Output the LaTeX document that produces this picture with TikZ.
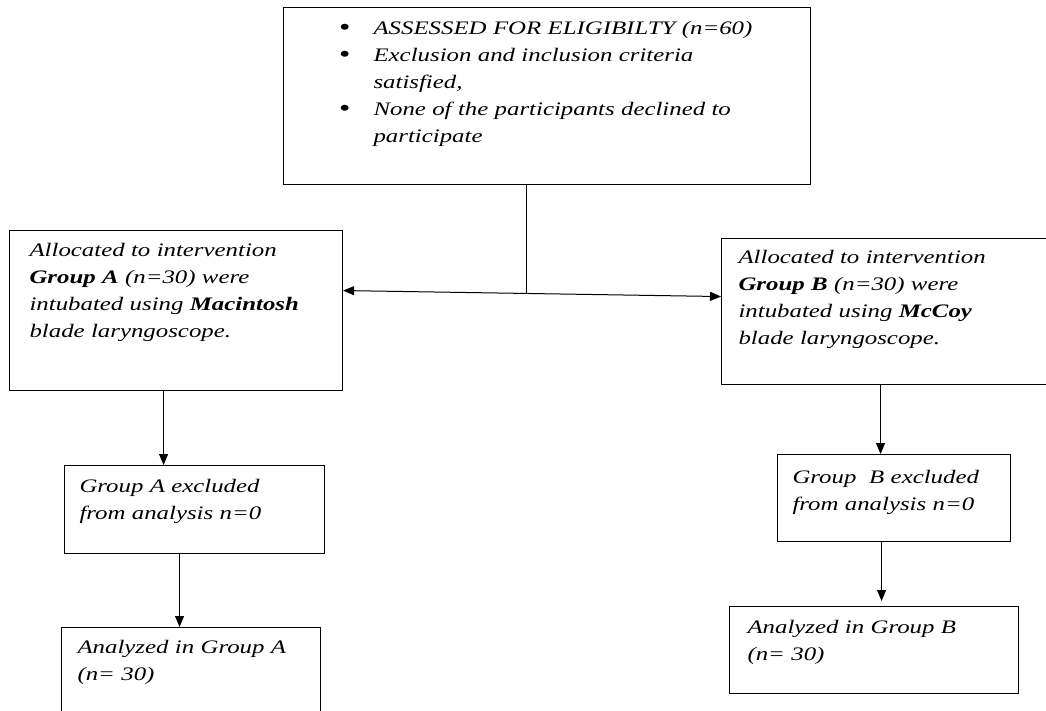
\documentclass[tikz,border=0pt]{standalone}
\usepackage{fontspec}
\setmainfont{Liberation Serif}[FakeStretch=1.3]
\usetikzlibrary{arrows.meta}
\newcommand{\flowbullet}{\leavevmode\llap{\upshape\raisebox{-1pt}{\fontsize{25}{27}\selectfont\textbullet}\hspace{23pt}}}
\begin{document}
\begin{tikzpicture}[x=1pt,y=-1pt,>={Triangle[length=11pt,width=9pt]},
  flowbox/.style={draw, line width=1.1pt, anchor=north west, inner sep=0pt, align=left,
    font=\fontsize{19.1}{27}\selectfont\itshape},
  link/.style={line width=1pt}]
\useasboundingbox (0,0) rectangle (1046,711);
\node[flowbox, text width=527pt, text height=27pt, text depth=150pt] (elig) at (283,7)
  {\leftskip=90pt\flowbullet ASSESSED FOR ELIGIBILTY (n=60)\\
   \flowbullet Exclusion and inclusion criteria\\
   satisfied,\\
   \flowbullet None of the participants declined to\\
   participate\par};
\node[flowbox, text width=333pt, text height=26pt, text depth=134pt] (groupA) at (9,230)
  {\leftskip=20pt Allocated to intervention\\
   \textbf{Group A} (n=30) were\\
   intubated using \textbf{Macintosh}\\
   blade laryngoscope.\par};
\node[flowbox, text width=340pt, text height=25pt, text depth=121pt] (groupB) at (721,238)
  {\leftskip=17pt Allocated to intervention\\
   \textbf{Group B} (n=30) were\\
   intubated using \textbf{McCoy}\\
   blade laryngoscope.\par};
\node[flowbox, text width=260pt, text height=27pt, text depth=61pt] (exclA) at (64,465)
  {\leftskip=15pt Group A excluded\\
   from analysis n=0\par};
\node[flowbox, text width=259pt, text height=26pt, text depth=74pt] (analA) at (61,627)
  {\leftskip=16pt Analyzed in Group A\\
   (n= 30)\par};
\node[flowbox, text width=233pt, text height=29pt, text depth=58pt] (exclB) at (777,454)
  {\leftskip=15pt Group~~B excluded\\
   from analysis n=0\par};
\node[flowbox, text width=289pt, text height=27pt, text depth=60pt] (analB) at (729,606)
  {\leftskip=18pt Analyzed in Group B\\
   (n= 30)\par};
\coordinate (fork) at (526,293);
\draw[link] (elig.south -| fork) -- (fork);
\draw[link,<->] ([yshift=20pt]groupA.east) -- ([yshift=15pt]groupB.west);
\draw[link,->] ([xshift=-12.5pt]groupA.south) -- ([xshift=-12.5pt]groupA.south |- exclA.north);
\draw[link,->] ([xshift=-15pt]exclA.south) -- ([xshift=-15pt]exclA.south |- analA.north);
\draw[link,->] ([xshift=-11pt]groupB.south) -- ([xshift=-11pt]groupB.south |- exclB.north);
\draw[link,->,shorten >=5pt] ([xshift=-12.5pt]exclB.south) -- ([xshift=-12.5pt]exclB.south |- analB.north);
\end{tikzpicture}
\end{document}
